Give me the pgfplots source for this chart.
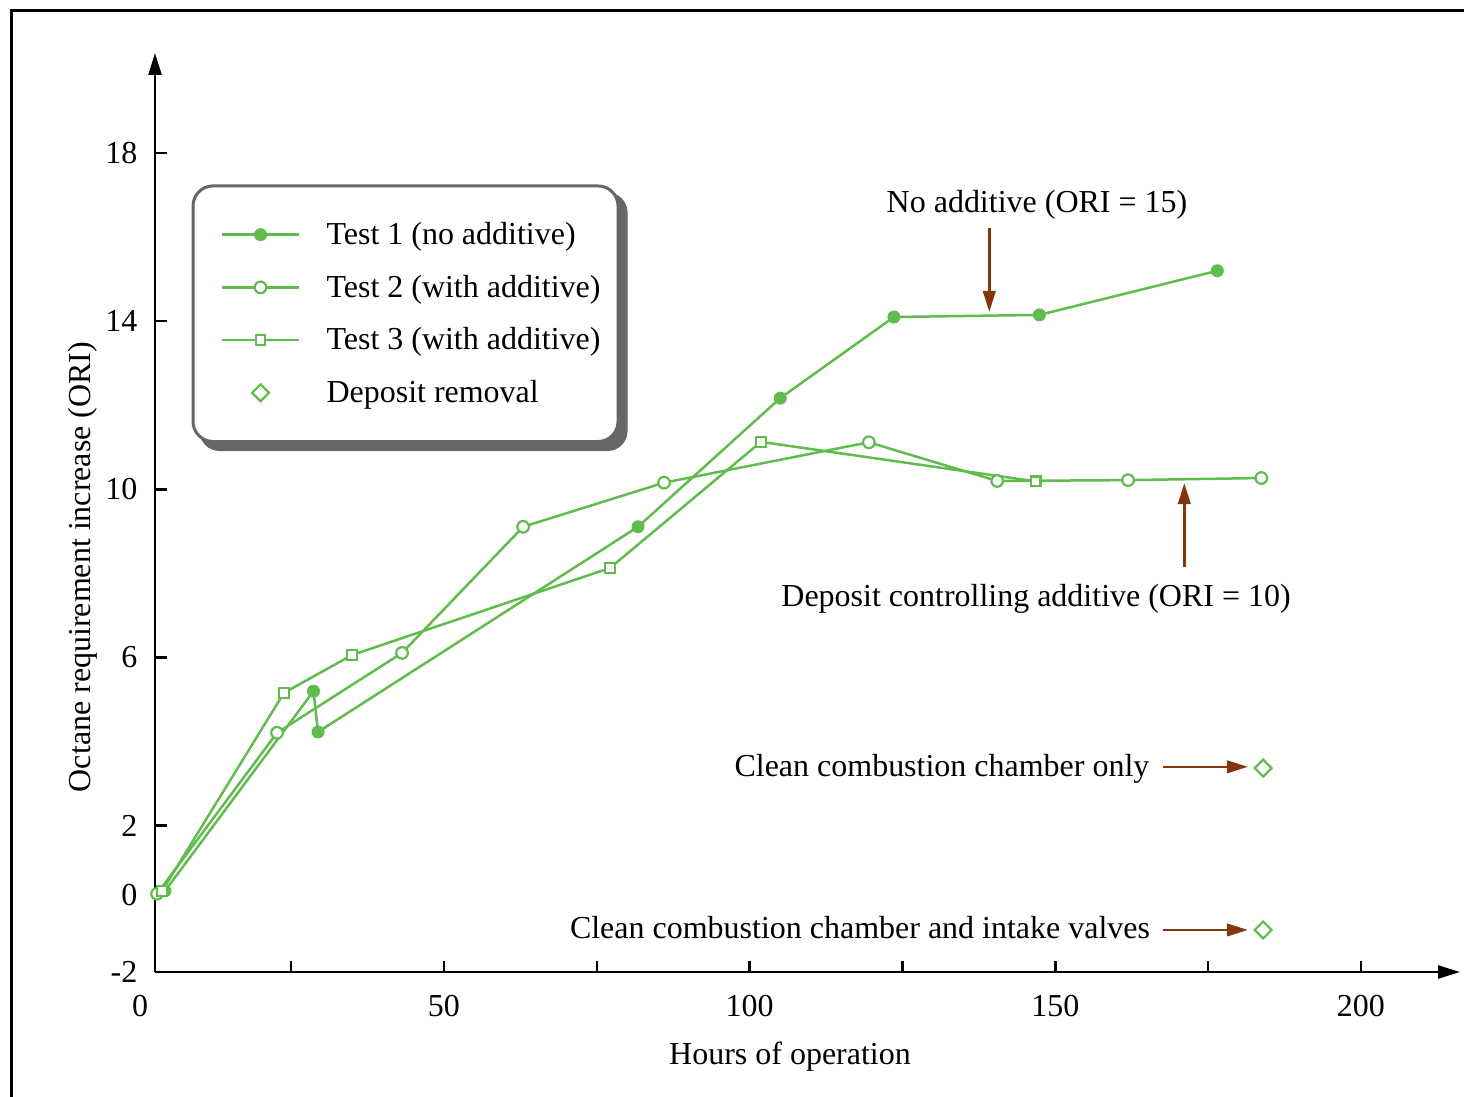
\documentclass[border=0pt]{standalone}
\usepackage{pgfplots}
\pgfplotsset{compat=1.18}
\usepackage{fontspec}
\setmainfont{Liberation Serif}
\usetikzlibrary{arrows.meta,backgrounds}
\definecolor{grn}{RGB}{96,188,76}
\definecolor{brn}{RGB}{130,55,10}
\definecolor{lgd}{RGB}{102,102,102}
\newcommand\fs{\fontsize{9.1}{11}\selectfont}
\pgfplotsset{
 lgline/.style={legend image code/.code={
   \path (-1.0mm,0) (7.7mm,0);
   \draw[sharp corners, mark repeat=2, mark phase=2] plot coordinates {(0mm,0mm) (3.85mm,0mm) (7.7mm,0mm)};}},
 lgmark/.style={legend image code/.code={
   \path (-1.0mm,0) (7.7mm,0);
   \draw[sharp corners, only marks] plot coordinates {(3.85mm,0mm)};}},
}
\begin{document}
\fs
\begin{tikzpicture}[font=\fs]
\useasboundingbox (0,0) rectangle (146.4mm,109.6mm);
\draw[line width=0.3mm] (1.15mm,-1mm) -- (1.15mm,108.55mm) -- (147mm,108.55mm);
\begin{axis}[
  at={(15.5mm,12.4mm)}, anchor=south west,
  scale only axis, width=130.5mm, height=91.9mm,
  xmin=2.73, xmax=216.2, ymin=-1.48, ymax=20.38,
  enlargelimits=false, clip=false,
  axis lines=left,
  axis line style={line width=0.25mm, -{Triangle[length=2.2mm,width=1.3mm]}},
  tick align=inside, major tick length=1.15mm,
  tick style={black, line width=0.25mm},
  xtick={25,50,...,200}, xticklabels={,50,,100,,150,,200},
  ytick={-1.48,0.35,2,6,10,14,18}, yticklabels={-2,0,2,6,10,14,18},
  xticklabel style={inner sep=0pt, anchor=north, yshift=-2.3mm, font=\fs},
  yticklabel style={inner sep=0pt, anchor=east, xshift=-1.7mm, font=\fs},
  xlabel={Hours of operation}, ylabel={Octane requirement increase (ORI)},
  every axis x label/.style={at={(axis description cs:0.4866,-0.0925)}, anchor=center, font=\fs},
  every axis y label/.style={at={(axis description cs:-0.0555,0.4407)}, anchor=center, rotate=90, font=\fs},
  legend cell align=left,
  legend style={
    name=L,
    at={(axis description cs:0.0280,0.8570)}, anchor=north west,
    draw=lgd, line width=0.3mm, rounded corners=2mm, fill=white,
    inner xsep=1.75mm, inner ysep=3.3mm,
    row sep=2.12mm, column sep=2.6mm,
    nodes={inner sep=0pt, text height=2.55mm, text depth=0.6mm, font=\fs},
    font=\fs,
  },
]
\addplot[grn, line width=0.25mm, mark=*, mark size=0.6mm,
  mark options={solid, fill=grn, draw=grn, line width=0.1mm}, lgline]
coordinates {(4.37,0.45) (28.65,5.20) (29.40,4.23) (81.74,9.11) (105.0,12.17) (123.6,14.10) (147.4,14.15) (176.5,15.20)};
\addlegendentry{Test 1 (no additive)}
\addplot[grn, line width=0.25mm, mark=*, mark size=0.58mm,
  mark options={solid, fill=white, draw=grn, line width=0.22mm}, lgline]
coordinates {(3.06,0.38) (22.69,4.21) (43.14,6.11) (62.95,9.11) (86.0,10.16) (119.5,11.12) (140.5,10.20) (161.9,10.22) (183.7,10.27)};
\addlegendentry{Test 2 (with additive)}
\addplot[grn, line width=0.25mm, mark=square*, mark size=0.48mm,
  mark options={solid, fill=white, draw=grn, line width=0.22mm}, lgline]
coordinates {(3.9,0.45) (23.83,5.16) (34.96,6.06) (77.16,8.13) (101.85,11.13) (146.8,10.19)};
\addlegendentry{Test 3 (with additive)}
\addplot[grn, only marks, mark=square, mark size=0.6mm,
  mark options={solid, rotate=45, draw=grn, line width=0.22mm}, lgmark]
coordinates {(184.0,3.37) (184.0,-0.48)};
\addlegendentry{Deposit removal}

\draw[brn, line width=0.25mm, -{Triangle[length=2.1mm,width=1.25mm]}] (axis cs:139.2,16.22) -- (axis cs:139.2,14.22);
\draw[brn, line width=0.25mm, -{Triangle[length=2.1mm,width=1.25mm]}] (axis cs:171.1,8.15) -- (axis cs:171.1,10.15);
\draw[brn, line width=0.25mm, -{Triangle[length=2.1mm,width=1.25mm]}] (axis cs:167.6,3.40) -- (axis cs:181.5,3.40);
\draw[brn, line width=0.25mm, -{Triangle[length=2.1mm,width=1.25mm]}] (axis cs:167.6,-0.48) -- (axis cs:181.5,-0.48);

\node[anchor=center, inner sep=0pt] at (axis cs:147.0,16.77) {No additive (ORI = 15)};
\node[anchor=center, inner sep=0pt] at (axis cs:146.85,7.39) {Deposit controlling additive (ORI = 10)};
\node[anchor=east, inner sep=0pt] at (axis cs:165.5,3.36) {Clean combustion chamber only};
\node[anchor=east, inner sep=0pt] at (axis cs:165.6,-0.42) {Clean combustion chamber and intake valves};
\node[anchor=north, inner sep=0pt, yshift=-2.3mm] at (axis cs:0.28,-1.48) {0};
\end{axis}
\begin{scope}[on background layer]
\fill[lgd, rounded corners=2mm] ([xshift=0.8mm,yshift=-0.8mm]L.south west) rectangle ([xshift=0.8mm,yshift=-0.8mm]L.north east);
\end{scope}
\end{tikzpicture}
\end{document}
